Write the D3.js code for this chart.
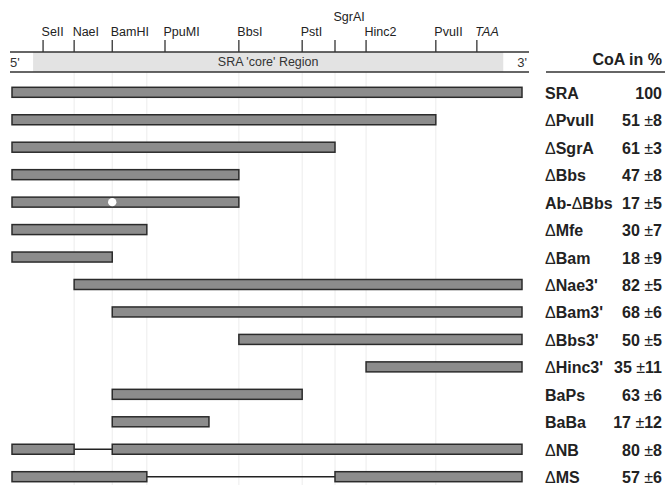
<!DOCTYPE html>
<html>
<head>
<meta charset="utf-8">
<script src="https://cdn.jsdelivr.net/npm/d3@7"></script>
<style>
  body { margin: 0; background: #fff; }
  text { font-family: "Liberation Sans", Arial, sans-serif; }
</style>
</head>
<body>
<div id="chart"></div>
<script>
// restriction sites along the SRA sequence (approx. nt)
const siteNames = ["SeII", "NaeI", "BamHI", "PpuMI", "BbsI", "PstI", "SgrAI", "Hinc2", "PvuII", "TAA"];
const sitePos = [53, 106, 171, 261, 387, 495, 551, 604, 723, 793];
// sites that get a faint guide line (Mfe site is unlabeled)
const guidePos = [106, 171, 230, 387, 495, 551, 604, 723];
const seqLength = 870;
const coreRegion = [36, 838];

// constructs: kept segments of SRA
const constructs = ["SRA", "ΔPvuII", "ΔSgrA", "ΔBbs", "Ab-ΔBbs", "ΔMfe", "ΔBam", "ΔNae3'",
  "ΔBam3'", "ΔBbs3'", "ΔHinc3'", "BaPs", "BaBa", "ΔNB", "ΔMS"];
const segments = [
  [[0, 870]], [[0, 723]], [[0, 551]], [[0, 387]], [[0, 387]], [[0, 230]], [[0, 171]],
  [[106, 870]], [[171, 870]], [[387, 870]], [[604, 870]], [[171, 495]], [[171, 336]],
  [[0, 106], [171, 870]], [[0, 230], [551, 870]]
];
const coaMean = [100, 51, 61, 47, 17, 30, 18, 82, 68, 50, 35, 63, 17, 80, 57];
const coaErr = [null, 8, 3, 8, 5, 7, 9, 5, 6, 5, 11, 6, 12, 8, 6];
const antibodySite = { row: "Ab-ΔBbs", pos: 171 };

const width = 665, height = 485;

const svg = d3.select("#chart")
  .append("svg")
  .attr("width", width)
  .attr("height", height);

const x = d3.scaleLinear().domain([0, seqLength]).range([12, 522]);
const y = d3.scalePoint().domain(constructs).range([92.3, 476.7]);
const barH = 10;

// faint guide lines
svg.selectAll(".guide")
  .data(guidePos)
  .enter()
  .append("line")
  .attr("x1", d => x(d)).attr("x2", d => x(d))
  .attr("y1", 72).attr("y2", height)
  .attr("stroke", "#ececec")
  .attr("stroke-width", 1);

// core region band
svg.append("rect")
  .attr("x", x(coreRegion[0]))
  .attr("y", 52)
  .attr("width", x(coreRegion[1]) - x(coreRegion[0]))
  .attr("height", 20)
  .attr("fill", "#e3e3e3");

[52, 72].forEach(yy => {
  svg.append("line")
    .attr("x1", x(0) - 2).attr("x2", x(seqLength) + 7)
    .attr("y1", yy).attr("y2", yy)
    .attr("stroke", "#333").attr("stroke-width", 1.3);
});

svg.append("text")
  .attr("x", x((coreRegion[0] + coreRegion[1]) / 2))
  .attr("y", 66)
  .attr("text-anchor", "middle")
  .style("font-size", "12.5px")
  .attr("fill", "#333")
  .text("SRA 'core' Region");

svg.append("text")
  .attr("x", x(0) - 2).attr("y", 67)
  .style("font-size", "13px").attr("fill", "#333")
  .text("5'");

svg.append("text")
  .attr("x", x(seqLength) + 5).attr("y", 67)
  .attr("text-anchor", "end")
  .style("font-size", "13px").attr("fill", "#333")
  .text("3'");

// site ticks and labels
svg.selectAll(".tick")
  .data(sitePos)
  .enter()
  .append("line")
  .attr("x1", d => x(d)).attr("x2", d => x(d))
  .attr("y1", 40).attr("y2", 52)
  .attr("stroke", "#333").attr("stroke-width", 1.3);

svg.selectAll(".site-label")
  .data(siteNames)
  .enter()
  .append("text")
  .attr("x", (d, i) => x(sitePos[i]) - 1.5)
  .attr("y", d => d === "SgrAI" ? 21 : 36)
  .style("font-size", "12.5px")
  .style("font-style", d => d === "TAA" ? "italic" : "normal")
  .attr("fill", "#222")
  .text(d => d);

// construct bars
segments.forEach((segs, i) => {
  const cy = y(constructs[i]);
  if (segs.length > 1) {
    svg.append("line")
      .attr("x1", x(segs[0][1])).attr("x2", x(segs[1][0]))
      .attr("y1", cy).attr("y2", cy)
      .attr("stroke", "#222").attr("stroke-width", 1.6);
  }
  segs.forEach(s => {
    svg.append("rect")
      .attr("x", x(s[0]))
      .attr("y", cy - barH / 2)
      .attr("width", x(s[1]) - x(s[0]))
      .attr("height", barH)
      .attr("fill", "#8c8c8c")
      .attr("stroke", "#2b2b2b")
      .attr("stroke-width", 1.5);
  });
});

// antibody binding spot
svg.append("circle")
  .attr("cx", x(antibodySite.pos))
  .attr("cy", y(antibodySite.row))
  .attr("r", 4.2)
  .attr("fill", "#fff");

// right table
svg.append("text")
  .attr("x", 662).attr("y", 65)
  .attr("text-anchor", "end")
  .style("font-size", "16px").style("font-weight", "bold")
  .attr("fill", "#222")
  .text("CoA in %");

svg.append("line")
  .attr("x1", 546).attr("x2", 665)
  .attr("y1", 72).attr("y2", 72)
  .attr("stroke", "#333").attr("stroke-width", 1.3);

// name labels, Δ in lighter weight
constructs.forEach((name, i) => {
  const t = svg.append("text")
    .attr("x", 545)
    .attr("y", y(name) + 6.5)
    .style("font-size", "16px").style("font-weight", "bold")
    .attr("fill", "#222");
  name.split(/(Δ)/).filter(p => p.length).forEach(p => {
    t.append("tspan")
      .style("font-weight", p === "Δ" ? "normal" : "bold")
      .text(p);
  });

  const v = svg.append("text")
    .attr("x", 662)
    .attr("y", y(name) + 6.5)
    .attr("text-anchor", "end")
    .style("font-size", "16px").style("font-weight", "bold")
    .attr("fill", "#222");
  v.append("tspan").text(coaMean[i]);
  if (coaErr[i] !== null) {
    v.append("tspan").style("font-weight", "normal").text(" ±");
    v.append("tspan").text(coaErr[i]);
  }
});
</script>
</body>
</html>
